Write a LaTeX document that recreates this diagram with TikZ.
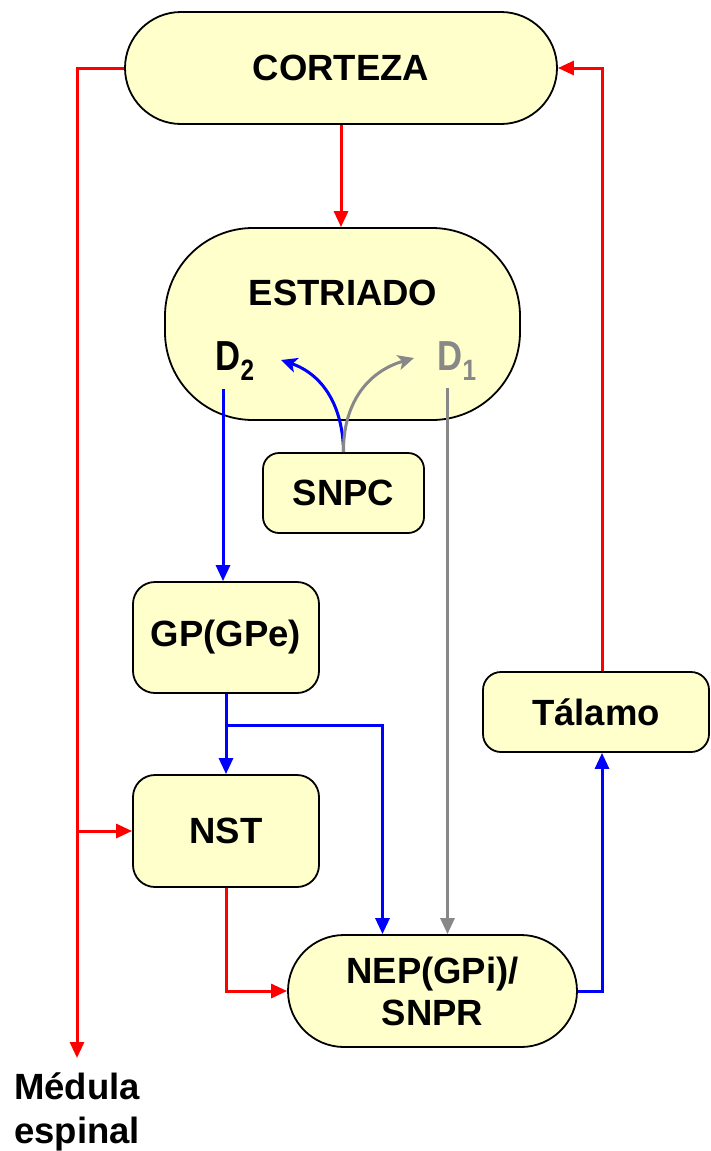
\documentclass[tikz,border=0pt]{standalone}
\usepackage{fontspec}
\setmainfont{Liberation Sans}
\usetikzlibrary{arrows.meta}
\definecolor{boxfill}{HTML}{FFFFCC}
\definecolor{linkred}{HTML}{FF0000}
\definecolor{linkblue}{HTML}{0000FF}
\definecolor{linkgray}{HTML}{888888}
\newcommand{\receptor}[1]{\scalebox{0.95}[1.15]{D\textsubscript{#1}}}
\begin{document}
\begin{tikzpicture}[x=1pt,y=-1pt,
  box/.style={draw=black, line width=1.8pt, fill=boxfill, inner sep=0pt,
    align=center, font=\bfseries\fontsize{36.5}{42}\selectfont},
  label/.style={inner sep=0pt, align=center, font=\bfseries\fontsize{36.5}{44}\selectfont},
  conn/.style={line width=3pt, -{Triangle[length=16pt,width=14pt]}},
  curved/.style={line width=3pt, -{Stealth[length=16pt,width=15pt,inset=4pt]}}]
\useasboundingbox (0,0) rectangle (711,1151);

% boxes
\node[box, rounded corners=56pt, minimum width=432pt, minimum height=112pt] (cortex) at (341,68) {CORTEZA};
\node[box, rounded corners=88pt, minimum width=355pt, minimum height=192pt] (estr) at (342.5,324) {};
\node[label] (estrtxt) at (343,293) {ESTRIADO};
\node[label] (dtwo) at (235,361) {\receptor{2}};
\node[label, text=linkgray] (done) at (457,361) {\receptor{1}};
\node[box, rounded corners=16pt, minimum width=161pt, minimum height=80pt] (snpc) at (343.5,493) {SNPC};
\node[box, rounded corners=22pt, minimum width=186pt, minimum height=111pt] (gp) at (226,637.5) {GP(GPe)};
\node[box, rounded corners=22pt, minimum width=186pt, minimum height=112pt] (nst) at (226,831) {NST};
\node[box, rounded corners=18pt, minimum width=226pt, minimum height=80pt] (tal) at (596,712) {Tálamo};
\node[box, rounded corners=56pt, minimum width=289pt, minimum height=112pt] (nep) at (432.5,991) {NEP(GPi)/\\SNPR};
\node[label] (medtxt) at (77,1112) {Médula\\espinal};

% helper coordinates
\coordinate (med) at (77,1058);
\coordinate (talx) at (602,712);
\coordinate (dtwos) at (223,389);
\coordinate (dones) at (447.5,388);
\coordinate (split) at (226,725);
\coordinate (nepb) at (382.5,991);

% red pathways
\draw[conn, linkred] (cortex.south) -- (cortex.south |- estr.north);
\draw[conn, linkred] (cortex.west) -| (med);
\draw[conn, linkred] (med |- nst.west) -- (nst.west);
\draw[conn, linkred] (talx |- tal.north) |- (cortex.east);
\draw[conn, linkred] (nst.south) |- (nep.west);

% blue pathways
\draw[conn, linkblue] (dtwos) -- (dtwos |- gp.north);
\draw[conn, linkblue] (gp.south) -- (nst.north);
\draw[conn, linkblue] (split) -| (nepb |- nep.north);
\draw[conn, linkblue] (nep.east) -| (talx |- tal.south);

% gray pathway
\draw[conn, linkgray] (dones) -- (dones |- nep.north);

% dopaminergic projections from SNPC
\draw[curved, linkblue] (snpc.north) .. controls (343,405) and (322,374) .. (281,360);
\draw[curved, linkgray] (snpc.north) .. controls (343,405) and (366,372) .. (414,358);
\end{tikzpicture}
\end{document}
